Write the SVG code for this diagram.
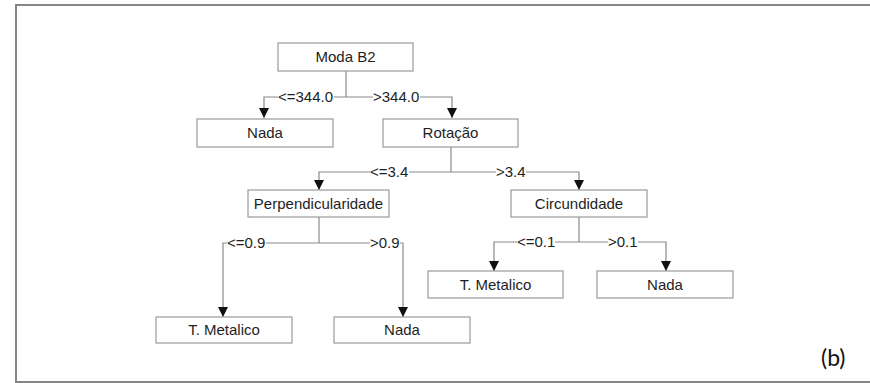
<svg xmlns="http://www.w3.org/2000/svg" width="870" height="383" viewBox="0 0 870 383">
<style>
.box{fill:#fff;stroke:#9a9a9a;stroke-width:1.2}
.nt{font-family:"Liberation Sans",Arial,sans-serif;font-size:15px;fill:#1e1e1e;text-anchor:middle}
.lb{font-family:"Liberation Sans",Arial,sans-serif;font-size:15px;fill:#1e1e1e}
.bg{fill:#fff}
.ln{fill:none;stroke:#8a8a8a;stroke-width:1.2}
</style>
<defs>
<marker id="ah" viewBox="0 0 10 10" refX="10" refY="5" markerWidth="10" markerHeight="10" markerUnits="userSpaceOnUse" orient="auto">
<path d="M0,0 L10,5 L0,10 Z" fill="#111"/>
</marker>
</defs>
<rect x="16" y="5" width="870" height="377" fill="#fff" stroke="#858585" stroke-width="2"/>
<g id="connectors">
<path class="ln" d="M346,71 V97"/>
<path class="ln" d="M346,97 H264 V118" marker-end="url(#ah)"/>
<path class="ln" d="M346,97 H452 V118" marker-end="url(#ah)"/>
<path class="ln" d="M451,147 V172"/>
<path class="ln" d="M451,172 H319 V190" marker-end="url(#ah)"/>
<path class="ln" d="M451,172 H579 V190" marker-end="url(#ah)"/>
<path class="ln" d="M319,217 V243"/>
<path class="ln" d="M319,243 H223 V317" marker-end="url(#ah)"/>
<path class="ln" d="M319,243 H403 V317" marker-end="url(#ah)"/>
<path class="ln" d="M579,217 V242"/>
<path class="ln" d="M579,242 H494 V271" marker-end="url(#ah)"/>
<path class="ln" d="M579,242 H666 V271" marker-end="url(#ah)"/>
<rect class="bg" x="278" y="90" width="56" height="14"/>
<rect class="bg" x="373" y="90" width="47" height="14"/>
<rect class="bg" x="370" y="165" width="39" height="14"/>
<rect class="bg" x="496" y="165" width="30" height="14"/>
<rect class="bg" x="227" y="236" width="39" height="14"/>
<rect class="bg" x="370" y="236" width="30" height="14"/>
<rect class="bg" x="517" y="235" width="38" height="14"/>
<rect class="bg" x="608" y="235" width="30" height="14"/>
<text class="lb" x="278" y="102">&lt;=344.0</text>
<text class="lb" x="373" y="102">&gt;344.0</text>
<text class="lb" x="370" y="177">&lt;=3.4</text>
<text class="lb" x="496" y="177">&gt;3.4</text>
<text class="lb" x="227" y="248">&lt;=0.9</text>
<text class="lb" x="370" y="248">&gt;0.9</text>
<text class="lb" x="517" y="247">&lt;=0.1</text>
<text class="lb" x="608" y="247">&gt;0.1</text>
</g>
<g id="n-moda"><rect class="box" x="278" y="43" width="135" height="28"/><text class="nt" x="345.5" y="62">Moda B2</text></g>
<g id="n-nada1"><rect class="box" x="197" y="119" width="136" height="28"/><text class="nt" x="265" y="138">Nada</text></g>
<g id="n-rotacao"><rect class="box" x="383" y="119" width="135" height="28"/><text class="nt" x="450.5" y="138">Rotação</text></g>
<g id="n-perp"><rect class="box" x="248" y="190" width="141" height="27"/><text class="nt" x="318.5" y="209">Perpendicularidade</text></g>
<g id="n-circ"><rect class="box" x="511" y="190" width="136" height="27"/><text class="nt" x="579" y="209">Circundidade</text></g>
<g id="n-tmet1"><rect class="box" x="156" y="317" width="136" height="26"/><text class="nt" x="224" y="335">T. Metalico</text></g>
<g id="n-nada2"><rect class="box" x="334" y="317" width="136" height="26"/><text class="nt" x="402" y="335">Nada</text></g>
<g id="n-tmet2"><rect class="box" x="428" y="271" width="135" height="27"/><text class="nt" x="495.5" y="290">T. Metalico</text></g>
<g id="n-nada3"><rect class="box" x="597" y="271" width="136" height="27"/><text class="nt" x="665" y="290">Nada</text></g>
<text x="821" y="366" font-family="Lato,'Open Sans',sans-serif" font-size="23" fill="#111">(b)</text>
</svg>
